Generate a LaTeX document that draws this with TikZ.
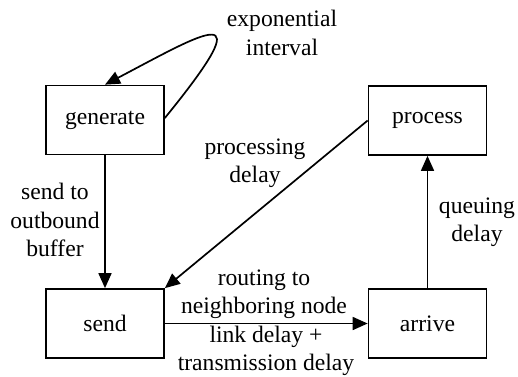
\documentclass[tikz,border=0pt]{standalone}
\usepackage{fontspec}
\setmainfont{Liberation Serif}
\newfontfamily\labelfont{Liberation Serif}
\usetikzlibrary{arrows.meta}
\begin{document}
\begin{tikzpicture}[x=1bp,y=-1bp,
  every node/.style={font=\labelfont\fontsize{23.7}{28.4}\selectfont},
  state/.style={draw,line width=1.7bp,minimum width=118bp,minimum height=69bp,inner sep=0pt},
  lbl/.style={align=center,inner sep=0pt},
  edge/.style={line width=1.7bp,-{Triangle[length=15bp,width=13bp]}}]
\useasboundingbox (0,0) rectangle (518,376);
\node[state] (gen) at (105,120) {generate};
\node[state] (pro) at (427.5,120.5) {process};
\node[state] (snd) at (105,323.5) {send};
\node[state] (arr) at (427.5,323.5) {arrive};
% self loop on generate
\draw[edge] ([yshift=2bp]gen.east) .. controls (265,-5) and (205,32) .. (gen.north);
\draw[edge] (gen) -- (snd);
\draw[edge] (pro.west) -- (snd.north east);
\draw[edge] (snd) -- (arr);
\draw[edge] (arr) -- (pro);
% edge labels
\node[lbl] (l1) at (282,33) {exponential\\interval};
\node[lbl] (l2) at (255,163) {processing\\delay};
\node[lbl] (l3) at (55,220) {send to\\outbound\\buffer};
\node[lbl] (l4) at (477,222) {queuing\\delay};
\node[lbl] (l5) at (264,294) {routing to\\neighboring node};
\node[lbl] (l6) at (266,351) {link delay +\\transmission delay};
\end{tikzpicture}
\end{document}
